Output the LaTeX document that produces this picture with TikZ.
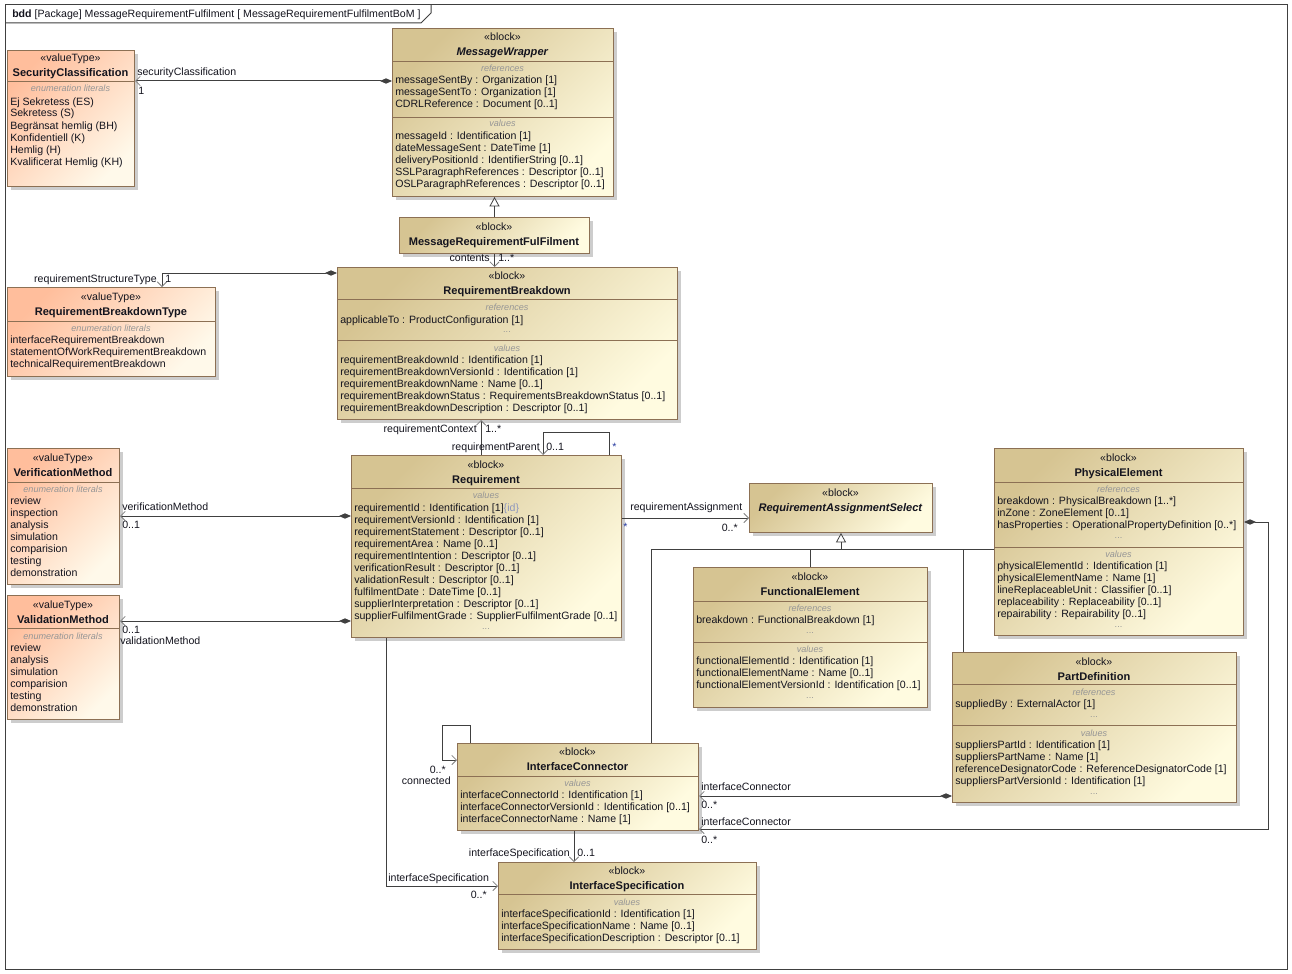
\documentclass[tikz,border=0pt]{standalone}
\usepackage{fontspec}
\setmainfont{Liberation Sans}
\usetikzlibrary{arrows.meta,calc}
\definecolor{blkA}{RGB}{214,196,146}
\definecolor{blkB}{RGB}{255,251,224}
\definecolor{valA}{RGB}{255,190,156}
\definecolor{valB}{RGB}{255,249,234}
\definecolor{bord}{RGB}{140,112,84}
\definecolor{linec}{RGB}{64,64,64}
\definecolor{shadc}{RGB}{205,205,205}
\definecolor{txtc}{RGB}{20,20,30}
\definecolor{secc}{RGB}{150,150,150}
\definecolor{starc}{RGB}{40,60,160}
\definecolor{idc}{RGB}{140,150,190}
\tikzset{
  blockbox/.style={draw=bord, line width=0.75pt, inner sep=0, shading=axis, top color=blkA, bottom color=blkB, shading angle=45},
  valbox/.style={draw=bord, line width=0.75pt, inner sep=0, shading=axis, top color=valA, bottom color=valB, shading angle=45},
  row/.style={anchor=base west, inner sep=0, font=\fontsize{7.95}{9}\selectfont, text=txtc},
  stereo/.style={anchor=base, inner sep=0, font=\fontsize{7.95}{9}\selectfont, text=txtc},
  titl/.style={anchor=base, inner sep=0, font=\fontsize{8.3}{9}\selectfont\bfseries, text=txtc},
  seclab/.style={anchor=base, inner sep=0, font=\fontsize{6.8}{8}\selectfont\itshape, text=secc},
  dotlab/.style={anchor=base, inner sep=0, font=\fontsize{6.8}{8}\selectfont, text=secc},
  lab/.style={inner sep=0, font=\fontsize{7.95}{9}\selectfont, text=txtc},
  assoc/.style={draw=linec, line width=0.75pt},
  comp/.style={assoc, {Diamond[length=9pt,width=4pt,fill=linec,color=linec]}-{Straight Barb[length=3.5pt,width=7pt,line width=0.6pt,color=gray]}},
  nav/.style={assoc, -{Straight Barb[length=3.5pt,width=7pt,line width=0.6pt,color=gray]}},
  gen/.style={assoc, -{Triangle[open,length=7pt,width=7.5pt,fill=white,color=linec,line width=0.6pt]}},
  sepl/.style={draw=bord, line width=0.75pt}
}
\newcommand\ubox[6]{%
  \fill[shadc] (#3+4,#4+4) rectangle (#5+4,#6+4);
  \node[#2, anchor=north west, minimum width={(#5-#3)*0.75pt}, minimum height={(#6-#4)*0.75pt}] (#1) at (#3,#4) {};
}
\newcommand\head[5]{%
  \node[stereo] (#1-st) at (#2,#3+4) {#4};
  \node[titl] (#1-ti) at (#2,#3+19) {#5};
}
\newcommand\rows[4]{\foreach \t [count=\i from 0] in {#4} {\node[row] (#3-\i) at (#1,#2+4+\i*12) {\t};}}
\newcommand\idtag{\textcolor{idc}{\{id\}}}
\begin{document}
\begin{tikzpicture}[x=0.75pt,y=-0.75pt]
\useasboundingbox (0,0) rectangle (1292,974);
\fill[white] (0,0) rectangle (1292,974);
% frame
\draw[draw=linec, line width=0.75pt] (5,5) rectangle (1287,969);
\draw[draw=linec, line width=0.75pt] (5,23) -- (421,23) -- (431,13) -- (431,5);
\node[lab, anchor=base west] (frametitle) at (12,18) {\textbf{bdd} [Package] MessageRequirementFulfilment [ MessageRequirementFulfilmentBoM ]};

% SecurityClassification
\ubox{sc}{valbox}{7}{50}{134}{186}
\head{sc}{70.5}{58}{«valueType»}{SecurityClassification}
\draw[sepl] (7,82) -- (134,82);
\node[seclab] (sc-sec) at (70.5,92) {enumeration literals};
\rows{10}{101}{sc-r}{{Ej Sekretess (ES)},{Sekretess (S)},{Begränsat hemlig (BH)},{Konfidentiell (K)},{Hemlig (H)},{Kvalificerat Hemlig (KH)}}

% MessageWrapper
\ubox{mw}{blockbox}{392}{28}{613}{196}
\head{mw}{502.5}{37}{«block»}{\textit{MessageWrapper}}
\draw[sepl] (392,62) -- (613,62);
\node[seclab] (mw-s1) at (502.5,72) {references};
\rows{395}{80}{mw-a}{{messageSentBy : Organization [1]},{messageSentTo : Organization [1]},{CDRLReference : Document [0..1]}}
\draw[sepl] (392,117) -- (613,117);
\node[seclab] (mw-s2) at (502.5,127) {values};
\rows{395}{135}{mw-b}{{messageId : Identification [1]},{dateMessageSent : DateTime [1]},{deliveryPositionId : IdentifierString [0..1]},{SSLParagraphReferences : Descriptor [0..1]},{OSLParagraphReferences : Descriptor [0..1]}}

% MessageRequirementFulFilment
\ubox{mrf}{blockbox}{399}{217}{589}{253}
\head{mrf}{494}{226}{«block»}{MessageRequirementFulFilment}

% RequirementBreakdown
\ubox{rb}{blockbox}{337}{267}{677}{419}
\head{rb}{507}{275}{«block»}{RequirementBreakdown}
\draw[sepl] (337,299) -- (677,299);
\node[seclab] (rb-s1) at (507,310) {references};
\rows{340}{319}{rb-a}{{applicableTo : ProductConfiguration [1]}}
\node[dotlab] (rb-d1) at (507,332) {...};
\draw[sepl] (337,340) -- (677,340);
\node[seclab] (rb-s2) at (507,351) {values};
\rows{340}{359}{rb-b}{{requirementBreakdownId : Identification [1]},{requirementBreakdownVersionId : Identification [1]},{requirementBreakdownName : Name [0..1]},{requirementBreakdownStatus : RequirementsBreakdownStatus [0..1]},{requirementBreakdownDescription : Descriptor [0..1]}}

% RequirementBreakdownType
\ubox{rbt}{valbox}{7}{287}{215}{376}
\head{rbt}{111}{296}{«valueType»}{RequirementBreakdownType}
\draw[sepl] (7,321) -- (215,321);
\node[seclab] (rbt-sec) at (111,331) {enumeration literals};
\rows{10}{339}{rbt-r}{{interfaceRequirementBreakdown},{statementOfWorkRequirementBreakdown},{technicalRequirementBreakdown}}

% VerificationMethod
\ubox{vm}{valbox}{7}{448}{119}{584}
\head{vm}{63}{457}{«valueType»}{VerificationMethod}
\draw[sepl] (7,482) -- (119,482);
\node[seclab] (vm-sec) at (63,492) {enumeration literals};
\rows{10}{500}{vm-r}{review,inspection,analysis,simulation,comparision,testing,demonstration}

% ValidationMethod
\ubox{valm}{valbox}{7}{595}{119}{719}
\head{valm}{63}{604}{«valueType»}{ValidationMethod}
\draw[sepl] (7,628) -- (119,628);
\node[seclab] (valm-sec) at (63,639) {enumeration literals};
\rows{10}{647}{valm-r}{review,analysis,simulation,comparision,testing,demonstration}

% Requirement
\ubox{req}{blockbox}{351}{455}{621}{637}
\head{req}{486}{464}{«block»}{Requirement}
\draw[sepl] (351,488) -- (621,488);
\node[seclab] (req-s1) at (486,498) {values};
\rows{354}{507}{req-b}{{requirementId : Identification [1]\idtag},{requirementVersionId : Identification [1]},{requirementStatement : Descriptor [0..1]},{requirementArea : Name [0..1]},{requirementIntention : Descriptor [0..1]},{verificationResult : Descriptor [0..1]},{validationResult : Descriptor [0..1]},{fulfilmentDate : DateTime [0..1]},{supplierInterpretation : Descriptor [0..1]},{supplierFulfilmentGrade : SupplierFulfilmentGrade [0..1]}}
\node[dotlab] (req-d1) at (486,629) {...};

% RequirementAssignmentSelect
\ubox{ras}{blockbox}{749}{483}{932}{532}
\head{ras}{840.5}{492}{«block»}{\textit{RequirementAssignmentSelect}}

% FunctionalElement
\ubox{fe}{blockbox}{693}{567}{927}{707}
\head{fe}{810}{576}{«block»}{FunctionalElement}
\draw[sepl] (693,601) -- (927,601);
\node[seclab] (fe-s1) at (810,611) {references};
\rows{696}{619}{fe-a}{{breakdown : FunctionalBreakdown [1]}}
\node[dotlab] (fe-d1) at (810,633) {...};
\draw[sepl] (693,642) -- (927,642);
\node[seclab] (fe-s2) at (810,652) {values};
\rows{696}{660}{fe-b}{{functionalElementId : Identification [1]},{functionalElementName : Name [0..1]},{functionalElementVersionId : Identification [0..1]}}
\node[dotlab] (fe-d2) at (810,698) {...};

% PhysicalElement
\ubox{pe}{blockbox}{994}{448}{1243}{635}
\head{pe}{1118.5}{457}{«block»}{PhysicalElement}
\draw[sepl] (994,482) -- (1243,482);
\node[seclab] (pe-s1) at (1118.5,492) {references};
\rows{997}{500}{pe-a}{{breakdown : PhysicalBreakdown [1..*]},{inZone : ZoneElement [0..1]},{hasProperties : OperationalPropertyDefinition [0..*]}}
\node[dotlab] (pe-d1) at (1118.5,538) {...};
\draw[sepl] (994,547) -- (1243,547);
\node[seclab] (pe-s2) at (1118.5,557) {values};
\rows{997}{565}{pe-b}{{physicalElementId : Identification [1]},{physicalElementName : Name [1]},{lineReplaceableUnit : Classifier [0..1]},{replaceability : Replaceability [0..1]},{repairability : Repairability [0..1]}}
\node[dotlab] (pe-d2) at (1118.5,627) {...};

% PartDefinition
\ubox{pd}{blockbox}{952}{652}{1236}{802}
\head{pd}{1094}{661}{«block»}{PartDefinition}
\draw[sepl] (952,684) -- (1236,684);
\node[seclab] (pd-s1) at (1094,695) {references};
\rows{955}{703}{pd-a}{{suppliedBy : ExternalActor [1]}}
\node[dotlab] (pd-d1) at (1094,717) {...};
\draw[sepl] (952,725) -- (1236,725);
\node[seclab] (pd-s2) at (1094,736) {values};
\rows{955}{744}{pd-b}{{suppliersPartId : Identification [1]},{suppliersPartName : Name [1]},{referenceDesignatorCode : ReferenceDesignatorCode [1]},{suppliersPartVersionId : Identification [1]}}
\node[dotlab] (pd-d2) at (1094,794) {...};

% InterfaceConnector
\ubox{ic}{blockbox}{457}{743}{698}{830}
\head{ic}{577.5}{751}{«block»}{InterfaceConnector}
\draw[sepl] (457,776) -- (698,776);
\node[seclab] (ic-s1) at (577.5,786) {values};
\rows{460}{794}{ic-b}{{interfaceConnectorId : Identification [1]},{interfaceConnectorVersionId : Identification [0..1]},{interfaceConnectorName : Name [1]}}

% InterfaceSpecification
\ubox{is}{blockbox}{498}{862}{756}{949}
\head{is}{627}{870}{«block»}{InterfaceSpecification}
\draw[sepl] (498,894) -- (756,894);
\node[seclab] (is-s1) at (627,905) {values};
\rows{501}{913}{is-b}{{interfaceSpecificationId : Identification [1]},{interfaceSpecificationName : Name [0..1]},{interfaceSpecificationDescription : Descriptor [0..1]}}

% ---------- connectors ----------
% securityClassification
\coordinate (c1) at ($(mw.north west)+(0,53)$);
\draw[comp] (c1) -- (c1 -| sc.east);
\node[lab, anchor=base west] (l1a) at (137,76) {securityClassification};
\node[lab, anchor=base west] (l1b) at (138,94) {1};

% generalization MRF -> MessageWrapper
\draw[gen] (mrf.north) -- (mrf.north |- mw.south);

% contents
\draw[nav] (mrf.south) -- (mrf.south |- rb.north);
\node[lab, anchor=base east] (l2a) at (490,261) {contents};
\node[lab, anchor=base west] (l2b) at (498,261) {1..*};

% requirementStructureType
\coordinate (c2) at ($(rb.north west)+(0,6)$);
\coordinate (c2b) at ($(rbt.north west)+(155,0)$);
\draw[comp] (c2) -| (c2b);
\node[lab, anchor=base east] (l3a) at (157,282) {requirementStructureType};
\node[lab, anchor=base west] (l3b) at (165,282) {1};

% requirementContext
\coordinate (c3) at ($(req.north west)+(130,0)$);
\draw[nav] (c3) -- (c3 |- rb.south);
\node[lab, anchor=base east] (l4a) at (477,432) {requirementContext};
\node[lab, anchor=base west] (l4b) at (485,432) {1..*};

% requirementParent
\coordinate (c4a) at ($(req.north west)+(258,0)$);
\coordinate (c4b) at ($(req.north west)+(192,0)$);
\draw[nav] (c4a) -- ++(0,-23) -| (c4b);
\node[lab, anchor=base east] (l5a) at (540,450) {requirementParent};
\node[lab, anchor=base west] (l5b) at (546,450) {0..1};
\node[lab, anchor=base west, text=starc] (l5c) at (612,450) {*};

% verificationMethod
\coordinate (c5) at ($(req.north west)+(0,61)$);
\draw[comp] (c5) -- (c5 -| vm.east);
\node[lab, anchor=base west] (l6a) at (122,510) {verificationMethod};
\node[lab, anchor=base west] (l6b) at (122,528) {0..1};

% validationMethod
\coordinate (c6) at ($(req.north west)+(0,166)$);
\draw[comp] (c6) -- (c6 -| valm.east);
\node[lab, anchor=base west] (l7b) at (122,633) {0..1};
\node[lab, anchor=base west] (l7a) at (120,644) {validationMethod};

% requirementAssignment
\coordinate (c7) at ($(req.north east)+(0,63)$);
\draw[nav] (c7) -- (c7 -| ras.west);
\node[lab, anchor=base west] (l8a) at (630,510) {requirementAssignment};
\node[lab, anchor=base east] (l8b) at (738,531) {0..*};
\node[lab, anchor=base west, text=starc] (l8c) at (623,530) {*};

% generalization tree to RequirementAssignmentSelect
\coordinate (g0) at ($(ras.south)+(0,16)$);
\coordinate (g1) at ($(ic.north west)+(194,0)$);
\coordinate (g3) at ($(pd.north west)+(11,0)$);
\draw[gen] (g0) -- (ras.south);
\draw[assoc] (g1 |- g0) -- (g0 -| pe.west);
\draw[assoc] (g1 |- g0) -- (g1);
\draw[assoc] (fe.north |- g0) -- (fe.north);
\draw[assoc] (g3 |- g0) -- (g3);

% hasProperties -> InterfaceConnector
\coordinate (c8) at ($(pe.north east)+(0,74)$);
\coordinate (c8b) at ($(ic.south east)+(0,-2)$);
\draw[comp] (c8) -- ++(24,0) |- (c8b);
\node[lab, anchor=base west] (l9a) at (701,825) {interfaceConnector};
\node[lab, anchor=base west] (l9b) at (701,843) {0..*};

% PartDefinition -> InterfaceConnector
\coordinate (c9) at ($(pd.south west)+(0,-7)$);
\draw[comp] (c9) -- (c9 -| ic.east);
\node[lab, anchor=base west] (l10a) at (701,790) {interfaceConnector};
\node[lab, anchor=base west] (l10b) at (701,808) {0..*};

% connected (self loop)
\coordinate (c10a) at ($(ic.north west)+(13,0)$);
\coordinate (c10b) at ($(ic.north west)+(0,17)$);
\draw[nav] (c10a) -- ++(0,-18) -| ($(c10b)+(-15,0)$) -- (c10b);
\node[lab, anchor=base east] (l11a) at (446,773) {0..*};
\node[lab, anchor=base east] (l11b) at (451,784) {connected};

% interfaceSpecification (IC -> IS)
\coordinate (c11) at ($(ic.south west)+(117,0)$);
\draw[nav] (c11) -- (c11 |- is.north);
\node[lab, anchor=base east] (l12a) at (570,856) {interfaceSpecification};
\node[lab, anchor=base west] (l12b) at (577,856) {0..1};

% interfaceSpecification (Requirement -> IS)
\coordinate (c12) at ($(req.south west)+(35,0)$);
\coordinate (c12b) at ($(is.north west)+(0,24)$);
\draw[nav] (c12) |- (c12b);
\node[lab, anchor=base west] (l13a) at (388,881) {interfaceSpecification};
\node[lab, anchor=base east] (l13b) at (487,898) {0..*};
\end{tikzpicture}
\end{document}
